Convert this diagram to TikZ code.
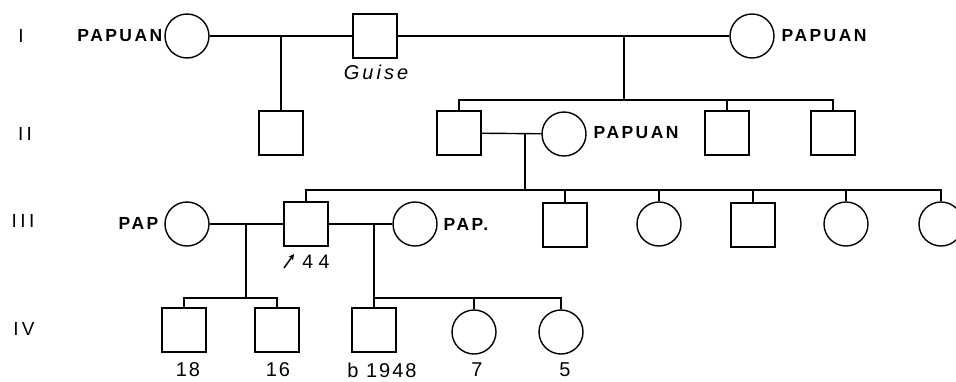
\documentclass[tikz,border=0pt]{standalone}
\usepackage{fontspec}
\usetikzlibrary{arrows.meta}
\setmainfont{Liberation Sans}
\newfontfamily\lblfont[LetterSpace=14]{Liberation Sans}
\newfontfamily\numfont[LetterSpace=10]{Liberation Sans}
\newfontfamily\wnumfont[LetterSpace=28]{Liberation Sans}
\newfontfamily\genfont[LetterSpace=18]{Liberation Sans}
\newfontfamily\itfont[LetterSpace=15]{Liberation Sans Italic}
\begin{document}
\begin{tikzpicture}[x=1pt,y=-1pt,line width=1.4pt,
  male/.style={draw,rectangle,minimum size=44pt,inner sep=0pt},
  female/.style={draw,circle,minimum size=44pt,inner sep=0pt},
  tag/.style={font=\lblfont\bfseries\fontsize{17.5}{18}\selectfont,inner sep=0pt},
  num/.style={font=\numfont\fontsize{20}{22}\selectfont,inner sep=0pt},
  gen/.style={font=\genfont\fontsize{19}{20}\selectfont,inner sep=0pt}]
\useasboundingbox (0,0) rectangle (956,381);
\clip (0,0) rectangle (956,381);
% generation labels
\node[gen] (gI) at (21,36) {I};
\node[gen] (gII) at (25,134) {II};
\node[gen] (gIII) at (23,221) {III};
\node[gen] (gIV) at (24,329) {IV};
% Generation I
\node[female] (f1) at (187,36) {};
\node[male] (m1) at (375,36) {};
\node[female] (f2) at (752,36) {};
% Generation II
\node[male] (m2) at (281,133) {};
\node[male] (m3) at (459,133) {};
\node[female] (f3) at (564,134) {};
\node[male] (m4) at (727,133) {};
\node[male] (m5) at (833,133) {};
% Generation III
\node[female] (f4) at (187,224) {};
\node[male] (m6) at (306,224) {};
\node[female] (f5) at (415,224) {};
\node[male] (m7) at (565,225) {};
\node[female] (f6) at (659,224) {};
\node[male] (m8) at (753,225) {};
\node[female] (f7) at (846,224) {};
\node[female] (f8) at (941,224) {};
% Generation IV
\node[male] (m9) at (184,330) {};
\node[male] (m10) at (277,330) {};
\node[male] (m11) at (374,330) {};
\node[female] (f9) at (474,332) {};
\node[female] (f10) at (561,332) {};
% labels
\node[tag,anchor=east] (p1) at (163,36) {PAPUAN};
\node[tag,anchor=west] (p2) at (781,36) {PAPUAN};
\node[tag,anchor=west] (p3) at (593,133) {PAPUAN};
\node[tag,anchor=east] (p4) at (159,223) {PAP};
\node[tag,anchor=west] (p5) at (443,224) {PAP.};
\node[font=\itfont\fontsize{20}{21}\selectfont,inner sep=0pt] (guise) at (376,72) {Guise};
\node[font=\wnumfont\fontsize{19.5}{20}\selectfont,inner sep=0pt] (n44) at (316,262) {44};
\coordinate (ar0) at (284,268);
\coordinate (ar1) at (294,254);
\draw[line width=1.5pt,-{Stealth[length=6pt,width=6pt]}] (ar0) -- (ar1);
\node[num] (n18) at (188,370) {18};
\node[num] (n16) at (278,370) {16};
\node[num] (nb) at (382,370) {b 1948};
\node[num] (n7) at (477,370) {7};
\node[num] (n5) at (565,370) {5};
% marriages
\draw (f1) -- (m1);
\draw (m1) -- (f2);
\draw (m3) -- (f3);
\draw (f4) -- (m6);
\draw (m6) -- (f5);
% descent lines
\coordinate (d1) at (281,36);
\draw (d1) -- (m2.north);
\coordinate (d2) at (624,36);
\coordinate (s2) at (624,100);
\draw (d2) -- (s2);
\draw (m3.north) |- (s2 -| m5.north) -- (m5.north);
\draw (m4.north) -- (m4.north |- s2);
\coordinate (d3) at (525,133);
\coordinate (s3) at (525,190);
\draw (d3) -- (s3);
\draw (m6.north) |- (s3 -| f8.north) -- (f8.north);
\foreach \c in {m7,f6,m8,f7} \draw (\c.north) -- (\c.north |- s3);
\coordinate (d4) at (246,223);
\coordinate (s4) at (246,298);
\draw (d4) -- (s4);
\draw (m9.north) |- (s4 -| m10.north) -- (m10.north);
\coordinate (d5) at (374,223);
\coordinate (s5) at (374,298);
\draw (d5) -- (s5);
\draw (m11.north) |- (s5 -| f10.north) -- (f10.north);
\draw (f9.north) -- (f9.north |- s5);
\end{tikzpicture}
\end{document}
